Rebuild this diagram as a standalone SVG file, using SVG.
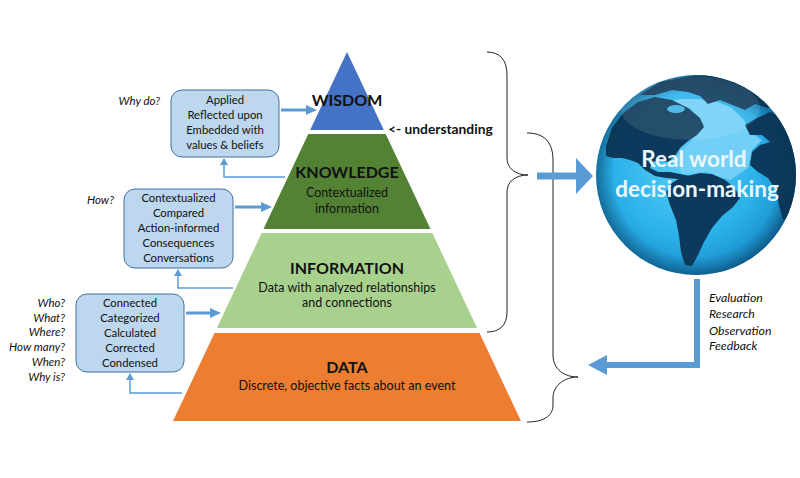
<svg xmlns="http://www.w3.org/2000/svg" width="800" height="478" viewBox="0 0 800 478">
<style>
  .t { font-family: Lato, "Liberation Sans", sans-serif; fill: #111; }
  .title { font-weight: bold; font-size: 16px; text-anchor: middle; }
  .sub { font-size: 12.5px; text-anchor: middle; }
  .box { fill: #BDD7EE; stroke: #41719C; stroke-width: 1; }
  .bt { font-size: 11.3px; text-anchor: middle; }
  .q { font-size: 11.5px; font-style: italic; text-anchor: end; }
  .fb { font-size: 12.3px; font-style: italic; }
  .thick { stroke: #5B9BD5; stroke-width: 3; fill: none; }
  .thin { stroke: #5B9BD5; stroke-width: 1.5; fill: none; }
  .brace { stroke: #222; stroke-width: 1; fill: none; }
  .ah { fill: #5B9BD5; }
  .land { fill: #0D3A5C; }
  .gt { font-family: Lato, "Liberation Sans", sans-serif; font-weight: bold; font-size: 22.5px; fill: #EAF7FD; text-anchor: middle; }
</style>
<defs>
  <marker id="small" markerWidth="8" markerHeight="8" refX="6" refY="4" orient="auto" markerUnits="userSpaceOnUse">
    <path d="M0,0 L7,4 L0,8 Z" fill="#5B9BD5"/>
  </marker>
  <radialGradient id="globeG" cx="0.45" cy="0.45" r="0.6">
    <stop offset="0" stop-color="#5ACDF6"/>
    <stop offset="0.6" stop-color="#2BB2EA"/>
    <stop offset="0.88" stop-color="#1C93CF"/>
    <stop offset="1" stop-color="#126CA3"/>
  </radialGradient>
  <radialGradient id="rim" cx="0.5" cy="0.5" r="0.5">
    <stop offset="0.82" stop-color="#06304F" stop-opacity="0"/>
    <stop offset="1" stop-color="#06304F" stop-opacity="0.45"/>
  </radialGradient>
  <clipPath id="gc"><circle cx="696" cy="175" r="100"/></clipPath>
</defs>

<rect width="800" height="478" fill="#fff"/>

<g id="pyramid">
  <g id="wisdom">
    <polygon points="347,52 383.8,130 310.2,130" fill="#4472C4"/>
    <text class="t title" x="347" y="106">WISDOM</text>
  </g>
  <g id="knowledge">
    <polygon points="308.3,134 385.7,134 430.5,229 263.5,229" fill="#548235"/>
    <text class="t title" x="347" y="178">KNOWLEDGE</text>
    <text class="t sub" x="347" y="197">Contextualized</text>
    <text class="t sub" x="347" y="213">information</text>
  </g>
  <g id="information">
    <polygon points="261.7,233 432.3,233 477.1,328 216.9,328" fill="#A9D18E"/>
    <text class="t title" x="347" y="274">INFORMATION</text>
    <text class="t sub" x="347" y="292">Data with analyzed relationships</text>
    <text class="t sub" x="347" y="307">and connections</text>
  </g>
  <g id="data">
    <polygon points="214.5,333 479.5,333 521,421 173,421" fill="#ED7D31"/>
    <text class="t title" x="347" y="373">DATA</text>
    <text class="t sub" x="347" y="390">Discrete, objective facts about an event</text>
  </g>
</g>

<text class="t" x="388" y="134" font-size="13.8" font-weight="bold">&lt;- understanding</text>

<g id="box-wisdom">
  <rect class="box" x="171" y="90" width="108" height="67" rx="11"/>
  <text class="t bt" x="225" y="104">Applied</text>
  <text class="t bt" x="225" y="119">Reflected upon</text>
  <text class="t bt" x="225" y="134">Embedded  with</text>
  <text class="t bt" x="225" y="149">values &amp; beliefs</text>
  <text class="t q" x="160" y="105">Why do?</text>
</g>
<g id="box-knowledge">
  <rect class="box" x="124" y="189" width="109" height="79" rx="11"/>
  <text class="t bt" x="178.5" y="202">Contextualized</text>
  <text class="t bt" x="178.5" y="217">Compared</text>
  <text class="t bt" x="178.5" y="232">Action-informed</text>
  <text class="t bt" x="178.5" y="247">Consequences</text>
  <text class="t bt" x="178.5" y="262">Conversations</text>
  <text class="t q" x="114" y="204">How?</text>
</g>
<g id="box-information">
  <rect class="box" x="76" y="294" width="108" height="78" rx="11"/>
  <text class="t bt" x="130" y="307">Connected</text>
  <text class="t bt" x="130" y="322">Categorized</text>
  <text class="t bt" x="130" y="337">Calculated</text>
  <text class="t bt" x="130" y="352">Corrected</text>
  <text class="t bt" x="130" y="367">Condensed</text>
  <text class="t q" x="65" y="307">Who?</text>
  <text class="t q" x="65" y="322">What?</text>
  <text class="t q" x="65" y="336">Where?</text>
  <text class="t q" x="65" y="351">How many?</text>
  <text class="t q" x="65" y="366">When?</text>
  <text class="t q" x="65" y="381">Why is?</text>
</g>

<g id="globe">
  <circle cx="696" cy="175" r="100" fill="url(#globeG)"/>
  <g clip-path="url(#gc)">
    <path d="M660,104 L690,108 L704,124 L692,140 L676,158 L682,174 L705,172 L730,180 L748,168 L752,150 L762,140 L750,132 L744,120 L732,108 L718,102 L700,99 L680,99 Z" fill="#72D0F6"/>
    <path class="land" d="M640,95 L660,82 L690,76 L720,74 L750,79 L770,90 L780,104 L768,108 L755,104 L745,110 L735,106 L720,100 L708,104 L700,96 L688,92 L672,90 L655,95 Z"/>
    <path class="land" d="M606,146 L612,128 L623,113 L638,102 L655,97 L672,100 L688,108 L700,118 L704,127 L697,135 L688,141 L680,148 L675,156 L668,162 L660,160 L652,162 L650,168 L658,172 L670,172 L680,174 L690,176 L688,180 L678,179 L666,178 L655,176 L645,170 L638,163 L630,160 L622,158 L613,158 L606,156 Z"/>
    <ellipse cx="676" cy="109" rx="9" ry="4" fill="#3DB3E6"/>
    <path class="land" d="M687,176 L700,173 L712,174 L725,180 L735,188 L740,198 L733,207 L722,216 L712,228 L704,242 L698,255 L692,266 L685,265 L681,252 L679,236 L676,220 L670,205 L666,192 L672,183 L680,178 Z"/>
    <path class="land" d="M745,125 L757,118 L770,112 L785,118 L795,130 L800,155 L800,200 L792,216 L783,220 L779,205 L776,190 L768,178 L758,172 L750,165 L752,152 L760,145 L770,142 L762,135 L750,135 Z"/>
    <circle cx="696" cy="175" r="100" fill="url(#rim)"/>
    <ellipse cx="690" cy="108" rx="70" ry="32" fill="#ffffff" opacity="0.1"/>
  </g>
  <text class="gt" x="694" y="167">Real world</text>
  <text class="gt" x="697" y="197">decision-making</text>
</g>

<g id="feedback-labels">
  <text class="t fb" x="709" y="302">Evaluation</text>
  <text class="t fb" x="709" y="318">Research</text>
  <text class="t fb" x="709" y="335">Observation</text>
  <text class="t fb" x="709" y="350">Feedback</text>
</g>

<g id="connectors">
  <line class="thick" x1="281" y1="110" x2="307" y2="110"/>
  <polygon class="ah" points="306,105 317,110 306,115"/>
  <line class="thick" x1="235" y1="207" x2="262" y2="207"/>
  <polygon class="ah" points="261,202 272,207 261,212"/>
  <line class="thick" x1="186" y1="313" x2="211" y2="313"/>
  <polygon class="ah" points="210,308 221,313 210,318"/>

  <path class="thin" d="M285,177 L224,177 L224,159" marker-end="url(#small)"/>
  <path class="thin" d="M233,288 L178,288 L178,270" marker-end="url(#small)"/>
  <path class="thin" d="M182,393 L130,393 L130,374" marker-end="url(#small)"/>

  <path class="brace" d="M487,52 C500,52 507,60 507,75 L507,158 C507,168 515,175 528,175 C515,175 507,182 507,192 L507,312 C507,325 500,332 487,332"/>
  <path class="brace" d="M527,133 C545,133 553,143 553,160 L553,355 C553,370 565,377 578,377 C565,377 553,385 553,398 L553,405 C553,415 545,422 527,422"/>

  <rect x="537" y="172.5" width="41" height="7" fill="#5B9BD5"/>
  <polygon class="ah" points="576,158 593,176 576,194"/>

  <path d="M697,279 L697,365 L605,365" stroke="#5B9BD5" stroke-width="6" fill="none"/>
  <polygon class="ah" points="607,355 588,365 607,375"/>
</g>
</svg>
